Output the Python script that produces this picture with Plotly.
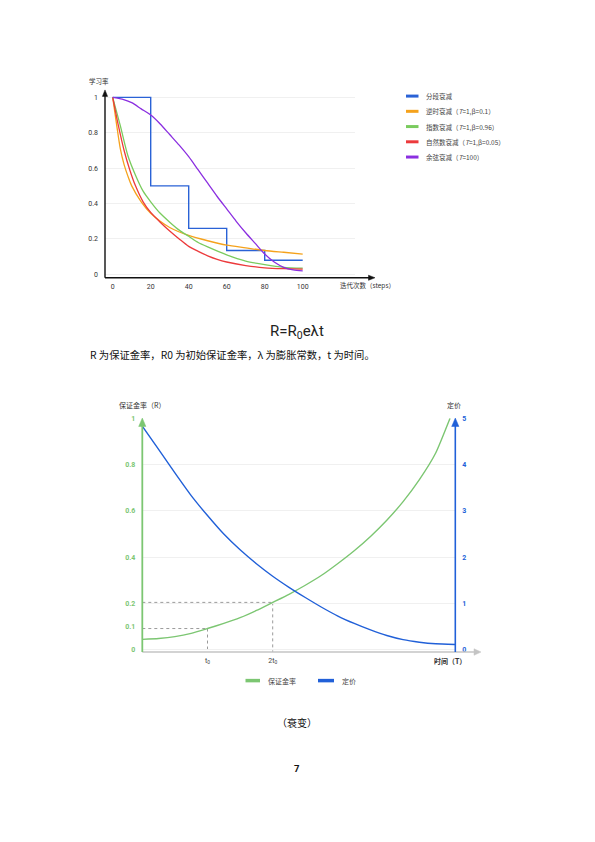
import plotly.graph_objects as go

# page is 595x842; the html body has an 8px margin, so the figure is laid out in page pixels minus that offset
OFF = 8
W, H = 579, 826

# ---------------- Chart 1 data (learning-rate decay) ----------------
step_x = [0, 20, 40, 60, 80, 100]
step_y = [1.0, 0.5, 0.26, 0.135, 0.08, 0.08]

inv_x = [0, 2, 4, 6, 8, 10, 15, 20, 25, 30, 40, 50, 60, 70, 80, 90, 100]
inv_y = [1.0, 0.85, 0.71, 0.62, 0.555, 0.50, 0.41, 0.345, 0.30, 0.265, 0.22, 0.19, 0.165, 0.15, 0.135, 0.125, 0.115]

exp_x = [0, 4, 8, 12, 16, 20, 25, 30, 35, 40, 45, 50, 60, 70, 80, 90, 100]
exp_y = [1.0, 0.84, 0.67, 0.56, 0.47, 0.41, 0.345, 0.295, 0.25, 0.215, 0.18, 0.155, 0.11, 0.075, 0.055, 0.04, 0.035]

nat_x = [0, 3, 6, 9, 12, 16, 20, 25, 30, 35, 40, 45, 50, 55, 60, 70, 80, 90, 100]
nat_y = [1.0, 0.84, 0.70, 0.59, 0.50, 0.41, 0.35, 0.295, 0.245, 0.20, 0.158, 0.13, 0.105, 0.085, 0.07, 0.05, 0.037, 0.032, 0.03]

cos_x = [0, 5, 10, 15, 20, 25, 30, 35, 40, 45, 50, 55, 60, 65, 70, 75, 80, 85, 90, 95, 100]
cos_y = [1.0, 0.99, 0.97, 0.935, 0.90, 0.85, 0.79, 0.73, 0.665, 0.59, 0.515, 0.44, 0.37, 0.30, 0.235, 0.175, 0.115, 0.07, 0.04, 0.025, 0.02]

c1_names = ["分段衰减", "逆时衰减（<i>T</i>=1,β=0.1）", "指数衰减（<i>T</i>=1,β=0.96）",
            "自然数衰减（<i>T</i>=1,β=0.05）", "余弦衰减（<i>T</i>=100）"]
c1_colors = ["#2a62d6", "#f5a21c", "#7acb5e", "#ec3a3c", "#8b2fe0"]
c1_xticks = [0, 20, 40, 60, 80, 100]
c1_yticks = [0, 0.2, 0.4, 0.6, 0.8, 1]
c1_yticktext = ["0", "0.2", "0.4", "0.6", "0.8", "1"]

# ---------------- Chart 2 data (margin rate vs price) ----------------
g_t = [0, 0.25, 0.5, 0.75, 1.0, 1.25, 1.5, 1.75, 2.0, 2.25, 2.5, 2.75, 3.0, 3.25, 3.5, 3.75, 4.0, 4.25, 4.5, 4.72]
g_r = [0.045, 0.049, 0.057, 0.071, 0.092, 0.114, 0.139, 0.17, 0.205, 0.24, 0.279, 0.322, 0.373, 0.428, 0.49, 0.56, 0.64, 0.735, 0.85, 1.0]

b_t = [0, 0.25, 0.5, 0.75, 1.0, 1.25, 1.5, 1.75, 2.0, 2.25, 2.5, 2.75, 3.0, 3.25, 3.5, 3.75, 4.0, 4.25, 4.5, 4.8]
b_p = [4.83, 4.33, 3.82, 3.33, 2.90, 2.50, 2.16, 1.86, 1.59, 1.35, 1.13, 0.92, 0.73, 0.57, 0.43, 0.31, 0.22, 0.165, 0.13, 0.115]

c2_names = ["保证金率", "定价"]
c2_colors = ["#7cc672", "#2160d8"]
c2_left_ticks = [0, 0.1, 0.2, 0.4, 0.6, 0.8, 1]
c2_left_text = ["0", "0.1", "0.2", "0.4", "0.6", "0.8", "1"]
c2_right_ticks = [0, 1, 2, 3, 4, 5]
c2_xticks = [1, 2]
c2_xtext = ["t<sub>0</sub>", "2t<sub>0</sub>"]
marks = [(1, 0.092), (2, 0.205)]


def px(x):
    return (x - OFF) / W


def py(y):
    return 1 - (y - OFF) / H


CJK = "Noto Sans CJK SC, Roboto, sans-serif"
NUM = "Roboto, Noto Sans CJK SC, sans-serif"

fig = go.Figure()

# chart 1 traces
fig.add_trace(go.Scatter(x=step_x, y=step_y, mode="lines", line=dict(color=c1_colors[0], width=1.4, shape="hv"),
                         name="分段衰减", showlegend=False, xaxis="x", yaxis="y"))
for xs, ys, col, nm in [(inv_x, inv_y, c1_colors[1], c1_names[1]), (exp_x, exp_y, c1_colors[2], c1_names[2]),
                        (nat_x, nat_y, c1_colors[3], c1_names[3]), (cos_x, cos_y, c1_colors[4], c1_names[4])]:
    fig.add_trace(go.Scatter(x=xs, y=ys, mode="lines", line=dict(color=col, width=1.3, shape="spline", smoothing=0.7),
                             name=nm, showlegend=False, xaxis="x", yaxis="y"))

# chart 2 traces
fig.add_trace(go.Scatter(x=g_t, y=g_r, mode="lines", line=dict(color=c2_colors[0], width=1.4, shape="spline", smoothing=0.5),
                         name=c2_names[0], showlegend=False, xaxis="x2", yaxis="y2"))
fig.add_trace(go.Scatter(x=b_t, y=b_p, mode="lines", line=dict(color=c2_colors[1], width=1.4, shape="spline", smoothing=0.5),
                         name=c2_names[1], showlegend=False, xaxis="x2", yaxis="y3"))

# chart 1 axes geometry (page pixels)
c1_left, c1_right, c1_bottom, c1_top = 105, 355, 275.7, 86
c1_x0, c1_xs = 112.7, 1.9
c1_y0, c1_ys = 272.3, 178.3
# chart 2 axes geometry (page pixels)
c2_left, c2_right, c2_bottom, c2_top = 142.3, 455.3, 652.7, 417.3
c2_x0, c2_xs = 142.3, 65.2
c2_y0, c2_ys = 650.5, 233.2

fig.update_layout(
    width=W, height=H, margin=dict(l=0, r=0, t=0, b=0),
    paper_bgcolor="white", plot_bgcolor="white", showlegend=False,
    xaxis=dict(domain=[px(c1_left), px(c1_right)],
               range=[(c1_left - c1_x0) / c1_xs, (c1_right - c1_x0) / c1_xs],
               tickvals=c1_xticks, showgrid=False, zeroline=False, showline=False, ticks="",
               tickfont=dict(family=NUM, size=7, color="#333"), ticklabelstandoff=3, anchor="y"),
    yaxis=dict(domain=[py(c1_bottom), py(c1_top)],
               range=[(c1_y0 - c1_bottom) / c1_ys, (c1_y0 - c1_top) / c1_ys],
               tickvals=c1_yticks, ticktext=c1_yticktext, showgrid=True, gridcolor="#f0f0f0", gridwidth=1,
               zeroline=False, showline=False, ticks="",
               tickfont=dict(family=NUM, size=7, color="#333"), ticklabelstandoff=6, anchor="x"),
    xaxis2=dict(domain=[px(c2_left), px(c2_right)],
                range=[(c2_left - c2_x0) / c2_xs, (c2_right - c2_x0) / c2_xs],
                tickvals=c2_xticks, ticktext=c2_xtext, showgrid=False, zeroline=False, showline=False, ticks="",
                tickfont=dict(family=NUM, size=7, color="#444"), ticklabelstandoff=3, anchor="y2"),
    yaxis2=dict(domain=[py(c2_bottom), py(c2_top)],
                range=[(c2_y0 - c2_bottom) / c2_ys, (c2_y0 - c2_top) / c2_ys],
                tickvals=c2_left_ticks, ticktext=c2_left_text, showgrid=False, zeroline=False, showline=False, ticks="",
                tickfont=dict(family=NUM, size=7, color="#7cc672", weight="bold"), ticklabelstandoff=6, anchor="x2"),
    yaxis3=dict(domain=[py(c2_bottom), py(c2_top)], overlaying="y2", side="right",
                range=[5 * (c2_y0 - c2_bottom) / c2_ys, 5 * (c2_y0 - c2_top) / c2_ys],
                tickvals=c2_right_ticks, showgrid=True, gridcolor="#f0f0f0", gridwidth=1,
                zeroline=False, showline=False, ticks="",
                tickfont=dict(family=NUM, size=7, color="#2160d8", weight="bold"), ticklabelstandoff=6, anchor="x2"),
)

shapes = []
ann = []


def line(x0, y0, x1, y1, color, width=1.0, dash="solid"):
    shapes.append(dict(type="line", xref="paper", yref="paper", x0=px(x0), y0=py(y0), x1=px(x1), y1=py(y1),
                       line=dict(color=color, width=width, dash=dash), layer="above"))


def tri(pts, color):
    d = "M " + " L ".join(f"{px(a):.5f},{py(b):.5f}" for a, b in pts) + " Z"
    shapes.append(dict(type="path", xref="paper", yref="paper", path=d, fillcolor=color,
                       line=dict(color=color, width=0.5), layer="above"))


def text(x, y, s, size=7, color="#333", anchor="center", family=CJK, weight="normal"):
    ann.append(dict(x=px(x), y=py(y), xref="paper", yref="paper", text=s, showarrow=False,
                    xanchor=anchor, yanchor="middle", font=dict(family=family, size=size, color=color, weight=weight)))


# chart 1 axes with arrows
line(c1_left, c1_bottom, c1_left, 92, "#111", 1.4)
tri([(c1_left, 86.5), (c1_left - 2.6, 93), (c1_left + 2.6, 93)], "#111")
line(c1_left, c1_bottom, 369, c1_bottom, "#111", 1.4)
tri([(375, c1_bottom), (368.5, c1_bottom - 2.6), (368.5, c1_bottom + 2.6)], "#111")
text(99, 78, "学习率", 6.5, "#333")
text(367, 283.5, "迭代次数（steps）", 6.5, "#333")

# chart 1 legend (manual)
for i, (nm, col) in enumerate(zip(c1_names, c1_colors)):
    yy = 92.7 + 15.35 * i
    line(406, yy, 418.5, yy, col, 3)
    text(423.5, yy, nm, 6.5, "#444", anchor="left")

# chart 2 dotted guides
for tv, rv in marks:
    shapes.append(dict(type="line", xref="x2", yref="y2", x0=0, y0=rv, x1=tv, y1=rv,
                       line=dict(color="#9a9a9a", width=1, dash="dot"), layer="below"))
    shapes.append(dict(type="line", xref="x2", yref="y2", x0=tv, y0=rv, x1=tv, y1=(c2_y0 - c2_bottom) / c2_ys,
                       line=dict(color="#9a9a9a", width=1, dash="dot"), layer="below"))

# chart 2 axes
line(c2_left, c2_bottom, 478, c2_bottom, "#c4c4c4", 1.3)
tri([(481, c2_bottom), (474, c2_bottom - 3.3), (474, c2_bottom + 3.3)], "#c4c4c4")
line(c2_left, c2_bottom, c2_left, 424, "#7cc672", 1.8)
tri([(c2_left, 417), (c2_left - 3.6, 425.5), (c2_left + 3.6, 425.5)], "#7cc672")
line(c2_right, c2_bottom, c2_right, 424, "#2160d8", 1.6)
tri([(c2_right, 417), (c2_right - 3.6, 425.5), (c2_right + 3.6, 425.5)], "#2160d8")
text(141.5, 404, "保证金率（R）", 7, "#333")
text(454, 403.5, "定价", 7, "#333")
text(450, 662, "时间（T）", 7, "#333", weight="bold")

# chart 2 legend (manual)
line(245.5, 681.5, 260, 681.5, c2_colors[0], 3.5)
text(266, 681.5, c2_names[0], 7, "#444", anchor="left")
line(318, 681.5, 334, 681.5, c2_colors[1], 3.5)
text(340, 681.5, c2_names[1], 7, "#444", anchor="left")

# page text
text(297, 330.5, "R=R<sub>0</sub>eλt", 15, "#222", family="Roboto, Noto Sans CJK SC, sans-serif")
text(88, 353.5, "R 为保证金率，R0 为初始保证金率，λ 为膨胀常数，t 为时间。", 10.3, "#111", anchor="left")
text(297, 724, "（衰变）", 10, "#111")
text(297, 770, "7", 9.5, "#111", family=NUM, weight="bold")

fig.update_layout(shapes=shapes, annotations=ann)
fig.write_html("out.html")
